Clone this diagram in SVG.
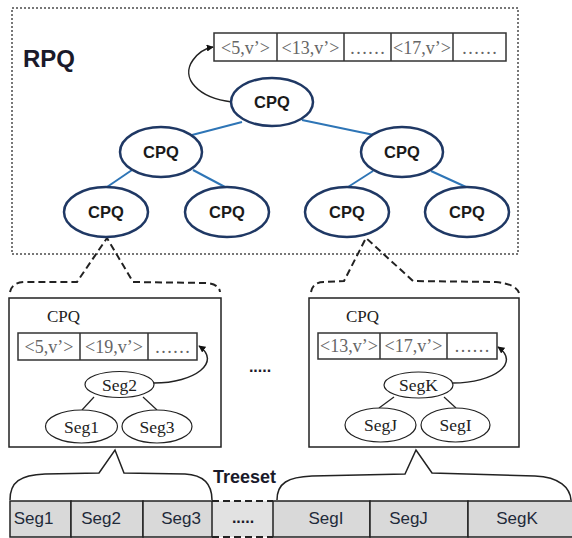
<svg xmlns="http://www.w3.org/2000/svg" width="572" height="538" viewBox="0 0 572 538">
<style>
.tn{fill:#fff;stroke:#1f3864;stroke-width:2.5}
.tl{stroke:#2e75b6;stroke-width:2;fill:none}
.tt{font-family:"Liberation Sans",Arial,sans-serif;font-weight:bold;font-size:16.5px;fill:#1a1a1a;text-anchor:middle}
.cell{fill:#fff;stroke:#333;stroke-width:1.5}
.ct{font-family:"Liberation Serif","Times New Roman",serif;font-size:18px;fill:#666;text-anchor:middle}
.box{fill:#fff;stroke:#222;stroke-width:1.5}
.bl{font-family:"Liberation Serif","Times New Roman",serif;font-size:17px;fill:#222}
.se{fill:#fff;stroke:#222;stroke-width:1.2}
.st{font-family:"Liberation Serif","Times New Roman",serif;font-size:17.5px;fill:#222;text-anchor:middle}
.thin{stroke:#222;stroke-width:1.2;fill:none}
.arr{stroke:#222;stroke-width:1.5;fill:none;marker-end:url(#ah)}
.dash{stroke:#222;stroke-width:2;fill:none;stroke-dasharray:7 4}
.brace{stroke:#222;stroke-width:1.5;fill:none}
.seg{fill:#d9d9d9;stroke:#222;stroke-width:1.5}
.sgt{font-family:"Liberation Sans",Arial,sans-serif;font-size:17px;fill:#1f2a3a;text-anchor:middle}
.bd{font-family:"Liberation Sans",Arial,sans-serif;font-weight:bold;fill:#1a1a2a}
</style>
<defs>
<marker id="ah" viewBox="0 0 10 10" refX="9" refY="5" markerWidth="7" markerHeight="7" markerUnits="userSpaceOnUse" orient="auto">
<path d="M0,0 L10,5 L0,10 z" fill="#111"/>
</marker>
</defs>

<g id="rpq">
<rect x="12" y="8" width="506" height="246" fill="none" stroke="#777" stroke-width="2" stroke-dasharray="2 2"/>
<text class="bd" x="23" y="67" font-size="24">RPQ</text>
</g>

<g id="top-array">
<rect class="cell" x="214" y="33" width="292" height="28"/>
<line class="cell" x1="277" y1="33" x2="277" y2="61"/>
<line class="cell" x1="344" y1="33" x2="344" y2="61"/>
<line class="cell" x1="391" y1="33" x2="391" y2="61"/>
<line class="cell" x1="453" y1="33" x2="453" y2="61"/>
<text class="ct" x="245.5" y="54">&lt;5,v’&gt;</text>
<text class="ct" x="310.5" y="54">&lt;13,v’&gt;</text>
<text class="ct" x="367.5" y="54">……</text>
<text class="ct" x="422" y="54">&lt;17,v’&gt;</text>
<text class="ct" x="479.5" y="54">……</text>
</g>

<g id="box-left">
<rect class="box" x="9" y="298" width="212" height="149"/>
<text class="bl" x="47" y="322">CPQ</text>
<rect class="cell" x="18" y="333" width="179" height="27"/>
<line class="cell" x1="80" y1="333" x2="80" y2="360"/>
<line class="cell" x1="148" y1="333" x2="148" y2="360"/>
<text class="ct" x="49" y="353">&lt;5,v’&gt;</text>
<text class="ct" x="114" y="353">&lt;19,v’&gt;</text>
<text class="ct" x="172.5" y="353">……</text>
</g>

<g id="box-right">
<rect class="box" x="309" y="298" width="210" height="149"/>
<text class="bl" x="346" y="322">CPQ</text>
<rect class="cell" x="318" y="333" width="179" height="26"/>
<line class="cell" x1="380" y1="333" x2="380" y2="359"/>
<line class="cell" x1="447" y1="333" x2="447" y2="359"/>
<text class="ct" x="349" y="352">&lt;13,v’&gt;</text>
<text class="ct" x="413.5" y="352">&lt;17,v’&gt;</text>
<text class="ct" x="472" y="352">……</text>
</g>

<g id="connectors">
<line class="tl" x1="242" y1="122" x2="192" y2="135"/>
<line class="tl" x1="302" y1="120" x2="374" y2="135"/>
<line class="tl" x1="132" y1="170" x2="107" y2="187"/>
<line class="tl" x1="193" y1="170" x2="225" y2="187"/>
<line class="tl" x1="373" y1="171" x2="348" y2="187"/>
<line class="tl" x1="431" y1="171" x2="466" y2="187"/>
<path class="arr" d="M232,102 C198,98 180,78 193,60 Q201,49 213,47"/>
<path class="dash" d="M10,292 Q12,282 26,282 L77,282 L107,238 L133,282 L206,283 Q219,284 220,292"/>
<path class="dash" d="M311,292 Q313,282 324,282 L344,281 L366,238 L413,281 L496,282 Q516,284 519,293"/>
<line class="thin" x1="94" y1="397" x2="82" y2="410"/>
<line class="thin" x1="143" y1="397" x2="157" y2="410"/>
<line class="thin" x1="394" y1="397" x2="379" y2="408"/>
<line class="thin" x1="444" y1="397" x2="456" y2="408"/>
<path class="arr" d="M154,383 C195,383 222,362 199,346"/>
<path class="arr" d="M453,383 C494,383 521,363 498,347"/>
<path class="brace" d="M10,500 C10,482 20,475 45,474 L99,473 L115,450 L124,473 L185,474 C205,475 212,485 212,500"/>
<path class="brace" d="M277,500 C277,483 288,477 312,476 L405,474 L416,450 L432,473 L535,476 C560,477 570,488 571,500"/>
</g>

<g id="cpq-root"><ellipse class="tn" cx="272" cy="102" rx="41" ry="24"/><text class="tt" x="272" y="108">CPQ</text></g>
<g id="cpq-l"><ellipse class="tn" cx="161" cy="152" rx="41" ry="25"/><text class="tt" x="161" y="158">CPQ</text></g>
<g id="cpq-r"><ellipse class="tn" cx="402" cy="152" rx="41" ry="25"/><text class="tt" x="402" y="158">CPQ</text></g>
<g id="cpq-ll"><ellipse class="tn" cx="106" cy="212" rx="42" ry="25"/><text class="tt" x="106" y="218">CPQ</text></g>
<g id="cpq-lr"><ellipse class="tn" cx="227" cy="212" rx="42" ry="25"/><text class="tt" x="227" y="218">CPQ</text></g>
<g id="cpq-rl"><ellipse class="tn" cx="347" cy="212" rx="42" ry="25"/><text class="tt" x="347" y="218">CPQ</text></g>
<g id="cpq-rr"><ellipse class="tn" cx="467" cy="212" rx="42" ry="25"/><text class="tt" x="467" y="218">CPQ</text></g>

<g id="seg2"><ellipse class="se" cx="119.5" cy="384.5" rx="34.5" ry="13"/><text class="st" x="119.5" y="390.5">Seg2</text></g>
<g id="seg1"><ellipse class="se" cx="81.5" cy="426.5" rx="36" ry="16.5"/><text class="st" x="81.5" y="432.5">Seg1</text></g>
<g id="seg3"><ellipse class="se" cx="157" cy="426.5" rx="35" ry="16.5"/><text class="st" x="157" y="432.5">Seg3</text></g>
<g id="segk"><ellipse class="se" cx="418.5" cy="385" rx="34.5" ry="13"/><text class="st" x="418.5" y="391">SegK</text></g>
<g id="segj"><ellipse class="se" cx="380.5" cy="425" rx="35.5" ry="17"/><text class="st" x="380.5" y="431">SegJ</text></g>
<g id="segi"><ellipse class="se" cx="455.5" cy="425" rx="34.5" ry="17"/><text class="st" x="455.5" y="431">SegI</text></g>

<g id="mid-dots"><text class="bd" x="260" y="372" font-size="16" text-anchor="middle">.....</text></g>

<g id="treeset">
<text class="bd" x="244.5" y="483" font-size="18" text-anchor="middle">Treeset</text>
<rect x="212" y="501" width="61" height="36" fill="#e2e2e2"/>
<line class="dash" x1="212" y1="501" x2="273" y2="501"/>
<line class="dash" x1="212" y1="537" x2="273" y2="537"/>
<text class="bd" x="243" y="523" font-size="16" text-anchor="middle">.....</text>
<rect class="seg" x="10" y="501" width="61" height="36"/>
<rect class="seg" x="71" y="501" width="72" height="36"/>
<rect class="seg" x="143" y="501" width="69" height="36"/>
<rect class="seg" x="273" y="501" width="97" height="36"/>
<rect class="seg" x="370" y="501" width="98" height="36"/>
<rect class="seg" x="468" y="501" width="110" height="36"/>
<text class="sgt" x="33.5" y="524">Seg1</text>
<text class="sgt" x="101" y="524">Seg2</text>
<text class="sgt" x="181" y="524">Seg3</text>
<text class="sgt" x="326" y="524">SegI</text>
<text class="sgt" x="408.5" y="524">SegJ</text>
<text class="sgt" x="517" y="524">SegK</text>
</g>
</svg>
